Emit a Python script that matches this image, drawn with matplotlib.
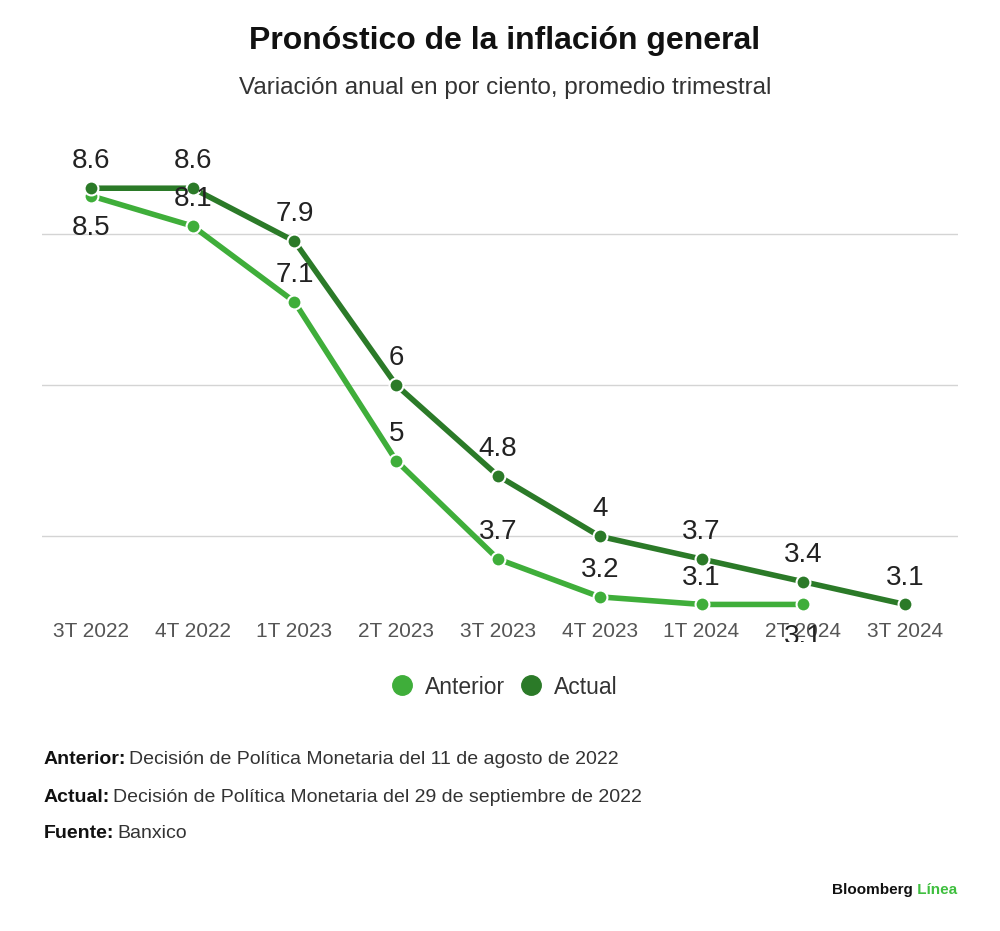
import numpy as np
import matplotlib
matplotlib.use("Agg")
import matplotlib.pyplot as plt
from matplotlib.lines import Line2D
from matplotlib.transforms import Bbox, TransformedBbox

plt.rcParams['font.family'] = ['Liberation Sans', 'DejaVu Sans']

trimestres = ['3T 2022', '4T 2022', '1T 2023', '2T 2023', '3T 2023',
              '4T 2023', '1T 2024', '2T 2024', '3T 2024']
anterior = [8.5, 8.1, 7.1, 5.0, 3.7, 3.2, 3.1, 3.1]
actual = [8.6, 8.6, 7.9, 6.0, 4.8, 4.0, 3.7, 3.4, 3.1]
etiquetas_ant = ['8.5', '8.1', '7.1', '5', '3.7', '3.2', '3.1', '3.1']
etiquetas_act = ['8.6', '8.6', '7.9', '6', '4.8', '4', '3.7', '3.4', '3.1']
# which Anterior labels sit below the point
abajo_ant = [True, False, False, False, False, False, False, True]

verde_claro = '#3fae3a'
verde_oscuro = '#2b7a28'

fig = plt.figure(figsize=(10, 9.31), dpi=100)
ax = fig.add_axes([0.042, 1 - 612 / 931, 0.916, 0.4877])

x_ant = np.arange(len(anterior))
x_act = np.arange(len(actual))

ax.plot(x_ant, anterior, color=verde_claro, lw=4, marker='o', ms=10,
        mec='white', mew=1.5, zorder=3, solid_capstyle='round')
ax.plot(x_act, actual, color=verde_oscuro, lw=4, marker='o', ms=10,
        mec='white', mew=1.5, zorder=4, solid_capstyle='round')

# the label under the last Anterior point is cut off just below the tick labels
corte = TransformedBbox(Bbox([[0, (931 - 642) / 931], [1, 1]]), fig.transFigure)

for xi, yi, txt, low in zip(x_ant, anterior, etiquetas_ant, abajo_ant):
    if low:
        a = ax.annotate(txt, (xi, yi), xytext=(0, -14), textcoords='offset points',
                        ha='center', va='top', fontsize=20, color='#222222', zorder=6)
        if xi == x_ant[-1]:
            a.set_clip_box(corte)
            a.set_clip_on(True)
    else:
        ax.annotate(txt, (xi, yi), xytext=(0, 10), textcoords='offset points',
                    ha='center', va='bottom', fontsize=20, color='#222222', zorder=6)
for xi, yi, txt in zip(x_act, actual, etiquetas_act):
    ax.annotate(txt, (xi, yi), xytext=(0, 10), textcoords='offset points',
                ha='center', va='bottom', fontsize=20, color='#222222', zorder=6)

ax.set_xlim(-0.48, 8.52)
ax.set_ylim(3.0, 9.0)
ax.set_yticks([4, 6, 8])
ax.yaxis.grid(True, color='#d4d4d4', lw=1)
ax.tick_params(axis='y', length=0, labelleft=False)
ax.set_xticks(x_act)
ax.set_xticklabels(trimestres, fontsize=15, color='#555555')
ax.tick_params(axis='x', length=0, pad=7)
for s in ax.spines.values():
    s.set_visible(False)
ax.set_axisbelow(True)

fig.text(0.505, 1 - 41 / 931, 'Pronóstico de la inflación general', ha='center',
         va='center', fontsize=23, fontweight='bold', color='#111111')
fig.text(0.505, 1 - 88 / 931, 'Variación anual en por ciento, promedio trimestral',
         ha='center', va='center', fontsize=17.5, color='#333333')

handles = [Line2D([], [], ls='none', marker='o', ms=14, color=verde_claro),
           Line2D([], [], ls='none', marker='o', ms=14, color=verde_oscuro)]
fig.legend(handles, ['Anterior', 'Actual'], loc='center', ncol=2,
           bbox_to_anchor=(0.503, 1 - 687 / 931), frameon=False, fontsize=16.5,
           handlelength=1.2, handletextpad=0.4, columnspacing=0.5,
           labelcolor='#333333')

notas = [('Anterior:', 'Decisión de Política Monetaria del 11 de agosto de 2022', 760),
         ('Actual:', 'Decisión de Política Monetaria del 29 de septiembre de 2022', 798),
         ('Fuente:', 'Banxico', 834)]
for negrita, resto, ypx in notas:
    t = fig.text(0.044, 1 - ypx / 931, negrita, ha='left', va='center',
                 fontsize=14, fontweight='bold', color='#111111')
    ax.annotate(resto, xy=(1, 0), xycoords=t, xytext=(3, 0),
                textcoords='offset pixels', ha='left', va='bottom',
                fontsize=14, color='#333333', annotation_clip=False)

marca = fig.text(0.832, 1 - 890 / 931, 'Bloomberg', ha='left', va='center',
                 fontsize=11, fontweight='bold', color='#111111')
ax.annotate(' Línea', xy=(1, 0), xycoords=marca, ha='left', va='bottom',
            fontsize=11, fontweight='bold', color='#3fbf3f', annotation_clip=False)

fig.savefig('out.png', dpi=100, facecolor='white')
